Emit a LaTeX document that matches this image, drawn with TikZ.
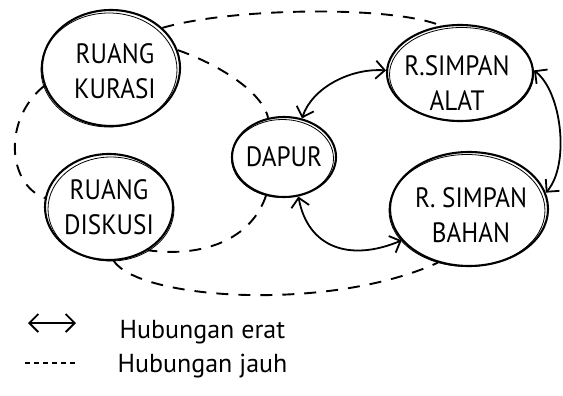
\documentclass[tikz,border=0pt]{standalone}
\usepackage{fontspec}
\setmainfont{PT Sans}
\newfontfamily\roomfont[FakeStretch=0.9]{PT Sans}
\usetikzlibrary{shapes.geometric,arrows.meta,calc}

\tikzset{
  room/.style={ellipse, draw, line width=2.1pt, inner sep=0pt},
  roomtext/.style={align=center, inner sep=0pt,
    font=\roomfont\fontsize{28}{35}\selectfont},
  sketch/.style={line width=0.8pt},
  barb/.tip={Straight Barb[length=9pt,width=18pt,line width=1.8pt]},
  close/.style={line width=1.8pt, {barb}-{barb}},
  far/.style={line width=1.9pt, dash pattern=on 12pt off 10pt},
  legend/.style={anchor=west, font=\fontsize{26}{30}\selectfont}
}

\begin{document}
\begin{tikzpicture}[x=1pt,y=-1pt]
\useasboundingbox (0,0) rectangle (563,396);

% rooms (outline plus centred caption)
\node[room, minimum width=138pt, minimum height=116pt,
  label={[roomtext, xshift=4pt, yshift=-3pt]center:RUANG\\KURASI}] (kur) at (111,68) {};
\node[room, minimum width=128pt, minimum height=106pt,
  label={[roomtext]center:RUANG\\DISKUSI}] (dis) at (109,207) {};
\node[room, minimum width=104pt, minimum height=80pt,
  label={[roomtext]center:DAPUR}] (dap) at (284,157) {};
\node[room, minimum width=146pt, minimum height=96pt,
  label={[roomtext, xshift=-3pt, yshift=-10pt]center:R.SIMPAN\\ALAT}] (alat) at (460,73) {};
\node[room, minimum width=158pt, minimum height=114pt,
  label={[roomtext, xshift=2pt, yshift=-6pt]center:R. SIMPAN\\BAHAN}] (bah) at (469,209) {};

% second pencil stroke around each room
\draw[sketch] ($(kur)+(-2,2)$) ellipse (68 and 57);
\draw[sketch] ($(dis)+(2,2)$) ellipse (63 and 52);
\draw[sketch] ($(dap)+(-1.5,1.5)$) ellipse (51 and 39);
\draw[sketch] ($(alat)+(1.5,1.5)$) ellipse (72 and 47);
\draw[sketch] ($(bah)+(-2,1.5)$) ellipse (78 and 56);

% distant relations
\draw[far] (kur.38) .. controls (230,8) and (390,5) .. (alat.112);
\draw[far] (kur.195) .. controls (2,120) and (8,185) .. (dis.172);
\draw[far] (kur.15) .. controls (220,65) and (262,92) .. (dap.112);
\draw[far] (dap.245) .. controls (252,238) and (205,258) .. (dis.312);
\draw[far] (dis.275) .. controls (140,300) and (330,312) .. (bah.240);

% close relations
\draw[close] (dap.65) .. controls (312,88) and (350,68) .. (alat.178);
\draw[close] (alat.2) .. controls (562,92) and (570,165) .. (bah.12);
\draw[close] (dap.290) .. controls (308,248) and (350,262) .. (bah.205);

% legend
\coordinate (la) at (28,323);
\coordinate (lb) at (76,323);
\coordinate (lc) at (25,363);
\coordinate (ld) at (78,363);
\draw[close] (la) -- (lb);
\draw[line width=1.8pt, dash pattern=on 5pt off 4pt] (lc) -- (ld);
\node[legend] (t1) at (116,332) {Hubungan erat};
\node[legend] (t2) at (114,366) {Hubungan jauh};
\end{tikzpicture}
\end{document}
